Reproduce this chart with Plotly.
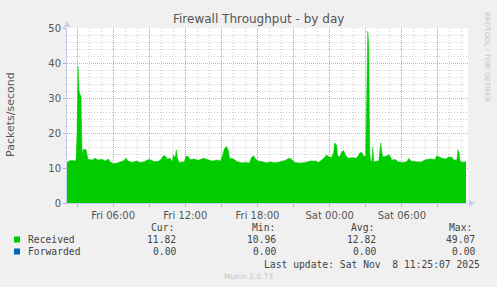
import plotly.graph_objects as go

# ---- data ----
times = [
    "2025-11-07 02:10", "2025-11-07 02:20", "2025-11-07 02:35", "2025-11-07 02:50", "2025-11-07 02:55",
    "2025-11-07 03:00", "2025-11-07 03:05", "2025-11-07 03:10", "2025-11-07 03:15", "2025-11-07 03:20",
    "2025-11-07 03:25", "2025-11-07 03:30", "2025-11-07 03:45", "2025-11-07 03:55", "2025-11-07 04:15",
    "2025-11-07 04:30", "2025-11-07 04:45", "2025-11-07 05:05", "2025-11-07 05:20", "2025-11-07 05:35",
    "2025-11-07 05:45", "2025-11-07 06:00", "2025-11-07 06:20", "2025-11-07 06:35", "2025-11-07 06:50",
    "2025-11-07 07:05", "2025-11-07 07:15", "2025-11-07 07:35", "2025-11-07 07:55", "2025-11-07 08:15",
    "2025-11-07 08:35", "2025-11-07 08:55", "2025-11-07 09:10", "2025-11-07 09:25", "2025-11-07 09:45",
    "2025-11-07 10:00", "2025-11-07 10:10", "2025-11-07 10:20", "2025-11-07 10:30", "2025-11-07 10:45",
    "2025-11-07 10:55", "2025-11-07 11:00", "2025-11-07 11:10", "2025-11-07 11:15", "2025-11-07 11:20",
    "2025-11-07 11:30", "2025-11-07 11:55", "2025-11-07 12:05", "2025-11-07 12:15", "2025-11-07 12:25",
    "2025-11-07 12:45", "2025-11-07 13:05", "2025-11-07 13:30", "2025-11-07 13:50", "2025-11-07 14:15",
    "2025-11-07 14:40", "2025-11-07 14:55", "2025-11-07 15:05", "2025-11-07 15:15", "2025-11-07 15:25",
    "2025-11-07 15:35", "2025-11-07 15:40", "2025-11-07 16:00", "2025-11-07 16:20", "2025-11-07 16:40",
    "2025-11-07 17:00", "2025-11-07 17:20", "2025-11-07 17:30", "2025-11-07 17:40", "2025-11-07 17:50",
    "2025-11-07 18:05", "2025-11-07 18:25", "2025-11-07 18:45", "2025-11-07 19:05", "2025-11-07 19:30",
    "2025-11-07 19:55", "2025-11-07 20:20", "2025-11-07 20:35", "2025-11-07 20:50", "2025-11-07 21:05",
    "2025-11-07 21:35", "2025-11-07 22:00", "2025-11-07 22:20", "2025-11-07 22:50", "2025-11-07 23:05",
    "2025-11-07 23:20", "2025-11-07 23:35", "2025-11-07 23:45", "2025-11-07 23:55", "2025-11-08 00:10",
    "2025-11-08 00:20", "2025-11-08 00:25", "2025-11-08 00:35", "2025-11-08 00:40", "2025-11-08 00:50",
    "2025-11-08 01:00", "2025-11-08 01:10", "2025-11-08 01:20", "2025-11-08 01:35", "2025-11-08 01:55",
    "2025-11-08 02:10", "2025-11-08 02:20", "2025-11-08 02:30", "2025-11-08 02:40", "2025-11-08 02:50",
    "2025-11-08 03:00", "2025-11-08 03:05", "2025-11-08 03:10", "2025-11-08 03:15", "2025-11-08 03:20",
    "2025-11-08 03:25", "2025-11-08 03:30", "2025-11-08 03:35", "2025-11-08 03:40", "2025-11-08 04:05",
    "2025-11-08 04:10", "2025-11-08 04:15", "2025-11-08 04:20", "2025-11-08 04:25", "2025-11-08 04:40",
    "2025-11-08 04:50", "2025-11-08 05:00", "2025-11-08 05:10", "2025-11-08 05:30", "2025-11-08 05:40",
    "2025-11-08 06:05", "2025-11-08 06:25", "2025-11-08 06:35", "2025-11-08 06:45", "2025-11-08 07:10",
    "2025-11-08 07:35", "2025-11-08 08:00", "2025-11-08 08:25", "2025-11-08 08:45", "2025-11-08 08:55",
    "2025-11-08 09:05", "2025-11-08 09:20", "2025-11-08 09:40", "2025-11-08 09:55", "2025-11-08 10:10",
    "2025-11-08 10:20", "2025-11-08 10:35", "2025-11-08 10:40", "2025-11-08 10:45", "2025-11-08 10:50",
    "2025-11-08 11:05", "2025-11-08 11:20",
]
received = [
    11.5, 12.0, 12.2, 12.0, 12.3,
    20.0, 39.0, 32.0, 31.0, 30.5,
    14.0, 15.2, 15.3, 12.5, 12.3,
    12.8, 12.3, 12.5, 12.0, 12.6,
    11.8, 11.2, 11.4, 11.6, 12.0,
    12.8, 12.0, 11.6, 12.0, 11.6,
    11.8, 12.4, 12.3, 11.8, 11.9,
    12.5, 13.5, 13.4, 12.6, 12.8,
    11.7, 13.7, 13.0, 15.2, 13.0,
    11.6, 11.8, 13.5, 13.2, 12.4,
    12.6, 12.2, 12.8, 12.4, 12.0,
    12.3, 12.0, 13.5, 15.5, 16.2,
    15.0, 12.8, 12.6, 11.8, 11.5,
    11.6, 11.4, 13.0, 13.5, 12.6,
    12.0, 11.8, 11.5, 11.7, 11.5,
    11.8, 12.2, 12.8, 12.5, 11.6,
    11.4, 11.6, 12.0, 12.0, 11.6,
    12.3, 13.0, 13.8, 13.2, 13.0,
    14.5, 17.2, 16.5, 13.4, 13.2,
    14.6, 15.0, 13.5, 12.8, 13.0,
    12.8, 13.2, 14.3, 14.5, 13.4,
    13.2, 30.0, 49.07, 45.0, 14.0,
    12.0, 11.8, 16.0, 11.8, 12.0,
    15.5, 17.2, 14.5, 13.2, 13.3,
    13.7, 13.6, 12.3, 12.4, 11.8,
    11.6, 11.8, 12.8, 12.0, 11.8,
    11.7, 12.4, 12.6, 12.4, 13.5,
    13.2, 12.8, 12.6, 13.2, 13.0,
    12.2, 12.4, 15.2, 14.5, 12.0,
    11.6, 11.82,
]
forwarded = [0.0] * len(times)

x_range = ["2025-11-07 02:10", "2025-11-08 11:30"]
tick_times = [
    "2025-11-07 03:00", "2025-11-07 06:00", "2025-11-07 09:00", "2025-11-07 12:00",
    "2025-11-07 15:00", "2025-11-07 18:00", "2025-11-07 21:00", "2025-11-08 00:00",
    "2025-11-08 03:00", "2025-11-08 06:00", "2025-11-08 09:00",
]
tick_labels = ["", "Fri 06:00", "", "Fri 12:00", "", "Fri 18:00", "",
               "Sat 00:00", "", "Sat 06:00", ""]

series_names = ["Received", "Forwarded"]
series_colors = ["#00CC00", "#0066B3"]
stat_headers = ["Cur:", "Min:", "Avg:", "Max:"]
stats = {
    "Received": ["11.82", "10.96", "12.82", "49.07"],
    "Forwarded": ["0.00", "0.00", "0.00", "0.00"],
}
title = "Firewall Throughput - by day"
y_title = "Packets/second"
last_update = "Last update: Sat Nov \u00a08 11:25:07 2025"

# ---- figure ----
W, H = 497, 287
L, R, T, B = 67, 468, 28, 203  # plot area in pixels

def px(x):
    return (x - L) / (R - L)

def py(y):
    return (B - y) / (B - T)

RED = "rgba(240,130,130,0.75)"
GREY = "#D0D0D0"
TXT = "#555555"
MONO = "DejaVu Sans Mono"
AXIS = "#C8D0F0"
MAJ_DASH = "1px,1px"
MIN_DASH = "1px,2px"

fig = go.Figure()
fig.add_trace(go.Scatter(
    x=times, y=received, mode="lines", fill="tozeroy",
    line=dict(color=series_colors[0], width=0.5),
    fillcolor=series_colors[0], name=series_names[0], hoverinfo="skip",
))
fig.add_trace(go.Scatter(
    x=times, y=forwarded, mode="lines",
    line=dict(color=series_colors[1], width=0),
    name=series_names[1], hoverinfo="skip",
))

fig.update_layout(
    width=W, height=H,
    margin=dict(l=L, r=W - R, t=T, b=H - B),
    paper_bgcolor="#F0F0F0", plot_bgcolor="#FFFFFF",
    showlegend=False,
    font=dict(family="DejaVu Sans", color=TXT, size=10),
)
fig.update_xaxes(
    type="date", range=x_range,
    tickmode="array", tickvals=tick_times, ticktext=tick_labels,
    showgrid=True, gridcolor=RED, griddash=MAJ_DASH, gridwidth=1,
    ticks="outside", ticklen=3, tickcolor=RED,
    tickfont=dict(size=10, color=TXT),
    minor=dict(dtick=3600000, tick0="2025-11-07 00:00", showgrid=True,
               gridcolor=GREY, griddash=MIN_DASH, gridwidth=1),
    showline=True, linecolor=AXIS, linewidth=1,
    zeroline=False, fixedrange=True,
)
fig.update_yaxes(
    range=[0, 50], tickmode="linear", tick0=0, dtick=10,
    showgrid=True, gridcolor=RED, griddash=MAJ_DASH, gridwidth=1,
    ticks="outside", ticklen=3, tickcolor=RED,
    tickfont=dict(size=10, color=TXT),
    minor=dict(dtick=2, showgrid=True, gridcolor=GREY, griddash=MIN_DASH, gridwidth=1),
    showline=True, linecolor=AXIS, linewidth=1,
    zeroline=False, fixedrange=True,
)

ann = []
ann.append(dict(text=title, xref="paper", yref="paper", x=px(258), y=py(19),
                xanchor="center", yanchor="middle", showarrow=False,
                font=dict(size=12, color=TXT, family="DejaVu Sans")))
ann.append(dict(text=y_title, xref="paper", yref="paper", x=px(10), y=py(115),
                xanchor="center", yanchor="middle", showarrow=False, textangle=-90,
                font=dict(size=11, color=TXT, family="DejaVu Sans")))
ann.append(dict(text="RRDTOOL / TOBI OETIKER", xref="paper", yref="paper", x=px(487), y=py(57),
                xanchor="center", yanchor="middle", showarrow=False, textangle=90,
                font=dict(size=7, color="#C4C4C4", family="DejaVu Sans")))
hdr_left = [149, 250, 349, 447]
num_right = [178, 278, 378, 477]
row_y = [239.5, 251.5]
for h, xl in zip(stat_headers, hdr_left):
    ann.append(dict(text=h, xref="paper", yref="paper", x=px(xl), y=py(227.5),
                    xanchor="left", yanchor="middle", showarrow=False,
                    font=dict(size=9.7, color="#444444", family=MONO)))
for name, color, yy in zip(series_names, series_colors, row_y):
    ann.append(dict(text=name, xref="paper", yref="paper", x=px(26), y=py(yy),
                    xanchor="left", yanchor="middle", showarrow=False,
                    font=dict(size=9.7, color="#444444", family=MONO)))
    for v, xr in zip(stats[name], num_right):
        ann.append(dict(text=v, xref="paper", yref="paper", x=px(xr), y=py(yy),
                        xanchor="right", yanchor="middle", showarrow=False,
                        font=dict(size=9.7, color="#444444", family=MONO)))
ann.append(dict(text=last_update, xref="paper", yref="paper", x=px(482), y=py(264),
                xanchor="right", yanchor="middle", showarrow=False,
                font=dict(size=9.7, color="#444444", family=MONO)))
ann.append(dict(text="Munin 2.0.73", xref="paper", yref="paper", x=px(248.5), y=py(276),
                xanchor="center", yanchor="middle", showarrow=False,
                font=dict(size=7.5, color="#C4C4C4", family="DejaVu Sans")))
fig.update_layout(annotations=ann)

shapes = []
for color, yy in zip(series_colors, row_y):
    shapes.append(dict(type="rect", xref="paper", yref="paper",
                       x0=px(14), x1=px(20), y0=py(yy - 3), y1=py(yy + 3),
                       fillcolor=color, line=dict(width=0), layer="above"))
shapes.append(dict(type="path", xref="paper", yref="paper",
                   path=f"M {px(63.5)} {py(27)} L {px(70.5)} {py(27)} L {px(67)} {py(21)} Z",
                   fillcolor=AXIS, line=dict(width=0), layer="above"))
shapes.append(dict(type="path", xref="paper", yref="paper",
                   path=f"M {px(469)} {py(199.5)} L {px(469)} {py(206.5)} L {px(475)} {py(203)} Z",
                   fillcolor=AXIS, line=dict(width=0), layer="above"))
fig.update_layout(shapes=shapes)

fig.write_html("out.html")
